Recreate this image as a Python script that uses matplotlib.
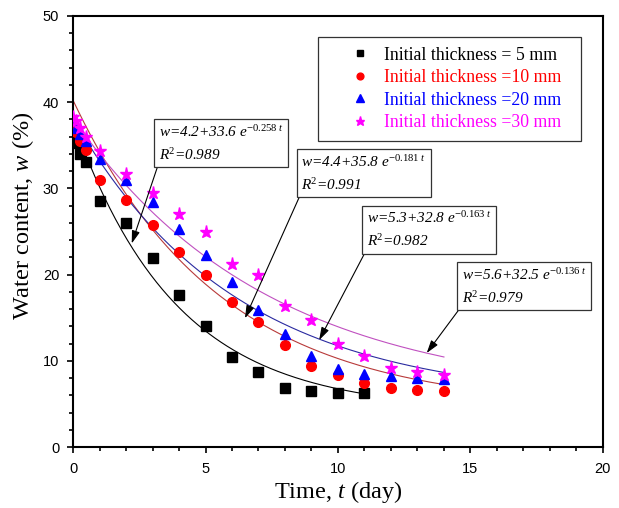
import numpy as np
import matplotlib
matplotlib.use('Agg')
import matplotlib.pyplot as plt
from matplotlib.ticker import MultipleLocator

plt.rcParams['mathtext.fontset'] = 'custom'
plt.rcParams['mathtext.it'] = 'Liberation Serif:italic'
plt.rcParams['mathtext.rm'] = 'Liberation Serif'
plt.rcParams['mathtext.default'] = 'it'

# measured points
t5 = [0, 0.1, 0.25, 0.5, 1, 2, 3, 4, 5, 6, 7, 8, 9, 10, 11]
w5 = [36.5, 35.3, 34.0, 33.0, 28.5, 26.0, 21.9, 17.6, 14.0, 10.4, 8.7, 6.9, 6.5, 6.3, 6.3]
t10 = [0, 0.1, 0.25, 0.5, 1, 2, 3, 4, 5, 6, 7, 8, 9, 10, 11, 12, 13, 14]
w10 = [37.5, 36.5, 35.5, 34.4, 31.0, 28.6, 25.7, 22.6, 19.9, 16.8, 14.5, 11.8, 9.4, 8.3, 7.4, 6.9, 6.6, 6.5]
t20 = [0, 0.1, 0.25, 0.5, 1, 2, 3, 4, 5, 6, 7, 8, 9, 10, 11, 12, 13, 14]
w20 = [38.0, 37.0, 36.3, 35.5, 33.4, 31.0, 28.4, 25.3, 22.3, 19.1, 15.9, 13.1, 10.6, 9.1, 8.5, 8.2, 8.0, 7.9]
t30 = [0, 0.1, 0.25, 0.5, 1, 2, 3, 4, 5, 6, 7, 8, 9, 10, 11, 12, 13, 14]
w30 = [38.3, 37.8, 37.0, 36.0, 34.3, 31.7, 29.5, 27.0, 24.9, 21.2, 19.9, 16.4, 14.7, 12.0, 10.5, 9.2, 8.7, 8.4]

labels = ['Initial thickness = 5 mm', 'Initial thickness =10 mm',
          'Initial thickness =20 mm', 'Initial thickness =30 mm']
colors = ['black', 'red', 'blue', 'magenta']
fitcolors = ['black', '#b83a3a', '#2a2aa0', '#c050c0']
markers = ['s', 'o', '^', '*']
msizes = [6.5, 7, 7.5, 9.5]

# fitted models w = a + b*exp(-c*t), as printed on the chart
fit_a = [4.2, 4.4, 5.3, 5.6]
fit_b = [33.6, 35.8, 32.8, 32.5]
fit_c = [0.258, 0.181, 0.163, 0.136]
fit_r2 = ['0.989', '0.991', '0.982', '0.979']
fit_end = [11, 14, 14, 14]

fig = plt.figure(figsize=(6.19, 5.08), dpi=100)
ax = fig.add_axes([0.118, 0.12, 0.856, 0.849])

T = [t5, t10, t20, t30]
W = [w5, w10, w20, w30]
for i in range(4):
    tt = np.linspace(0, fit_end[i], 200)
    ax.plot(tt, fit_a[i] + fit_b[i] * np.exp(-fit_c[i] * tt), color=fitcolors[i], lw=0.8, zorder=2)
for i in range(4):
    ax.plot(T[i], W[i], ls='none', marker=markers[i], color=colors[i], ms=msizes[i],
            label=labels[i], zorder=3)

ax.set_xlim(0, 20)
ax.set_ylim(0, 50)
ax.xaxis.set_major_locator(MultipleLocator(5))
ax.xaxis.set_minor_locator(MultipleLocator(1))
ax.yaxis.set_major_locator(MultipleLocator(10))
ax.yaxis.set_minor_locator(MultipleLocator(2))
ax.tick_params(which='both', direction='out', width=1.2, labelsize=10.5)
ax.tick_params(which='major', length=4.5)
ax.tick_params(which='minor', length=2.8)
ax.tick_params(axis='x', which='major', pad=6.5)
ax.tick_params(axis='y', which='major', pad=5.5)
for lab in ax.get_xticklabels() + ax.get_yticklabels():
    lab.set_family('Liberation Sans')
for s in ax.spines.values():
    s.set_linewidth(1.5)

ax.set_xlabel('Time, $t$ (day)', family='Liberation Serif', fontsize=17.5, labelpad=2)
ax.set_ylabel('Water content, $w$ (%)', family='Liberation Serif', fontsize=17.5)
ax.yaxis.set_label_coords(-0.07, 0.537)

leg = ax.legend(loc='upper left', bbox_to_anchor=(0.4623, 0.451, 0.4962, 0.5), mode='expand',
                frameon=True, fancybox=False,
                prop={'family': 'Liberation Serif', 'size': 12.8}, handletextpad=-0.5,
                borderpad=0.55, labelspacing=0.31, borderaxespad=0, handlelength=3.67,
                markerscale=0.7)
leg.get_frame().set_edgecolor('black')
leg.get_frame().set_linewidth(0.9)
for txt, c in zip(leg.get_texts(), colors):
    txt.set_color(c)

# annotation boxes: text position, arrow target
box_t = [3.24, 8.615, 11.09, 14.675]
box_w = [37.48, 34.0, 27.46, 20.89]
tip_t = [2.215, 6.49, 9.29, 13.35]
tip_w = [23.6, 14.93, 12.4, 10.9]
for i in range(4):
    s = ('w=%.1f+%.1f e$^{-%.3f\\ t}$\nR$^2$=%s'
         % (fit_a[i], fit_b[i], fit_c[i], fit_r2[i]))
    ax.annotate(s, xy=(tip_t[i], tip_w[i]), xytext=(box_t[i], box_w[i]),
                ha='left', va='top', family='Liberation Serif', style='italic',
                fontsize=11, linespacing=1.55,
                bbox=dict(boxstyle='square,pad=0.3', fc='white', ec='#333333', lw=0.9),
                arrowprops=dict(arrowstyle='-|>,head_length=0.7,head_width=0.22', color='black',
                                lw=0.8, relpos=(0, 0), shrinkA=0, shrinkB=0))

fig.savefig('out.png', dpi=100)
